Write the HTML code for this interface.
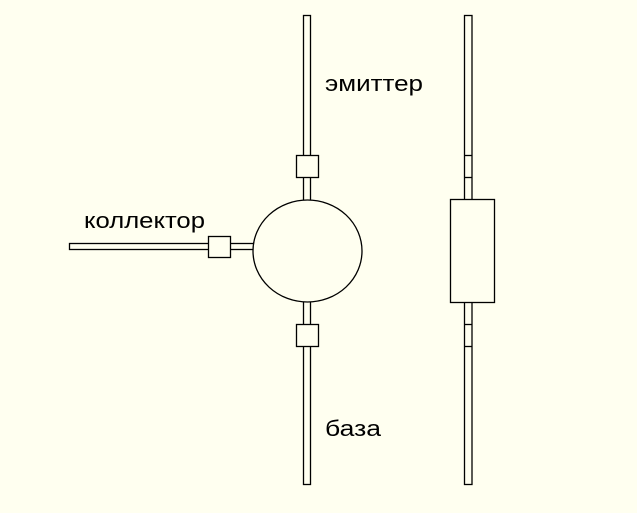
<!DOCTYPE html>
<html><head><style>
body{margin:0;background:#fffff0;}
svg{display:block}
text{font-family:"Liberation Sans",sans-serif;font-size:22px;fill:#000}
</style></head><body>
<svg width="637" height="513" viewBox="0 0 637 513">
<rect width="637" height="513" fill="#fffff0"/>
<g fill="#fffff0" stroke="#000" stroke-width="1.3">
<rect x="303.5" y="15.5" width="7" height="469"/>
<rect x="296.5" y="155.5" width="22" height="22"/>
<rect x="296.5" y="324.5" width="22" height="22"/>
<rect x="69.5" y="243.5" width="190" height="6"/>
<rect x="208.5" y="236.5" width="22" height="21"/>
<ellipse cx="307.5" cy="251" rx="54.5" ry="51"/>
<rect x="464.5" y="15.5" width="7.5" height="469"/>
<line x1="464.5" y1="155.5" x2="472" y2="155.5"/>
<line x1="464.5" y1="177.5" x2="472" y2="177.5"/>
<line x1="464.5" y1="324.5" x2="472" y2="324.5"/>
<line x1="464.5" y1="346.5" x2="472" y2="346.5"/>
<rect x="450.5" y="199.5" width="44" height="103"/>
</g>
<text x="325" y="91" textLength="98" lengthAdjust="spacingAndGlyphs">эмиттер</text>
<text x="84" y="228" textLength="121" lengthAdjust="spacingAndGlyphs">коллектор</text>
<text x="325" y="436" textLength="56" lengthAdjust="spacingAndGlyphs">база</text>
</svg>
</body></html>
